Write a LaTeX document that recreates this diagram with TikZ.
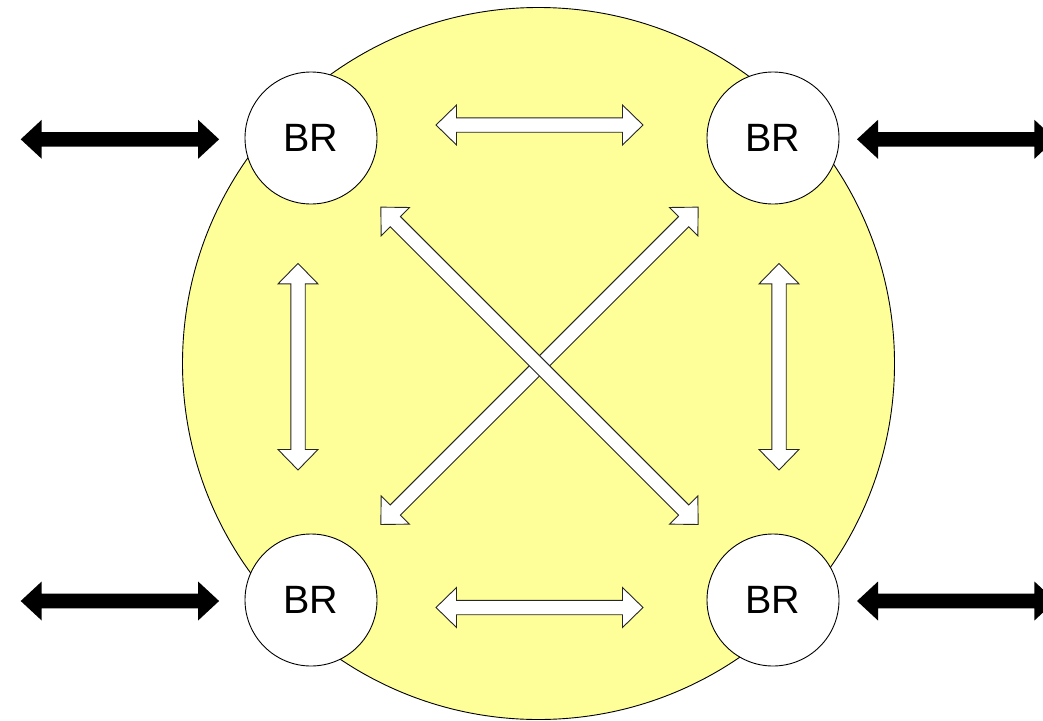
\documentclass[tikz,border=0pt]{standalone}
\usepackage{fontspec}
\setmainfont{Liberation Sans}
\definecolor{yellowbg}{HTML}{FFFF99}
\begin{document}
\begin{tikzpicture}[x=1pt,y=-1pt,
  bigdisc/.style={circle, draw=black, line width=0.9pt, fill=yellowbg, minimum size=712pt, inner sep=0pt},
  br/.style={circle, draw=black, line width=0.9pt, fill=white, minimum size=132pt, inner sep=0pt,
    font=\fontsize{39.5}{47}\selectfont},
  whitearrow/.style={draw=black!85, line width=0.9pt, fill=white, line join=miter},
  blackarrow/.style={fill=black, draw=none},
  pics/wdbl/.style={code={
    \draw[whitearrow] (-#1,0) -- (-#1+20.5,-20) -- (-#1+20.5,-7.2) -- (#1-20.5,-7.2) -- (#1-20.5,-20)
      -- (#1,0) -- (#1-20.5,20) -- (#1-20.5,7.2) -- (-#1+20.5,7.2) -- (-#1+20.5,20) -- cycle;}},
  pics/bdbl/.style={code={
    \fill[blackarrow] (-#1,0) -- (-#1+21,-19.5) -- (-#1+21,-7.3) -- (#1-21,-7.3) -- (#1-21,-19.5)
      -- (#1,0) -- (#1-21,19.5) -- (#1-21,7.3) -- (-#1+21,7.3) -- (-#1+21,19.5) -- cycle;}}
]
\clip (0,0) rectangle (1043,720);
\fill[white] (0,0) rectangle (1043,720);

% big yellow disc
\node[bigdisc] (ring) at (538.5,363.5) {};

% border routers
\node[br] (tl) at (311,138) {BR};
\node[br] (tr) at (773,138) {BR};
\node[br] (bl) at (311,600) {BR};
\node[br] (brr) at (773,600) {BR};

% white block arrows inside the ring
\pic (top) at (539.5,125) {wdbl=103.5};
\pic (bot) at (539.5,607.5) {wdbl=103.5};
\pic[rotate=90] (lft) at (298,366.7) {wdbl=103.3};
\pic[rotate=90] (rgt) at (779,366.7) {wdbl=103.3};
\pic[rotate=45] (d2) at (539.5,365.8) {wdbl=224.4};
\pic[rotate=-45] (d1) at (539.5,365.8) {wdbl=224.4};

% black external arrows
\pic (ext1) at (119.9,139.3) {bdbl=99.2};
\pic (ext2) at (956.2,139.3) {bdbl=99.2};
\pic (ext3) at (119.9,601) {bdbl=99.2};
\pic (ext4) at (956.2,601) {bdbl=99.2};
\end{tikzpicture}
\end{document}
